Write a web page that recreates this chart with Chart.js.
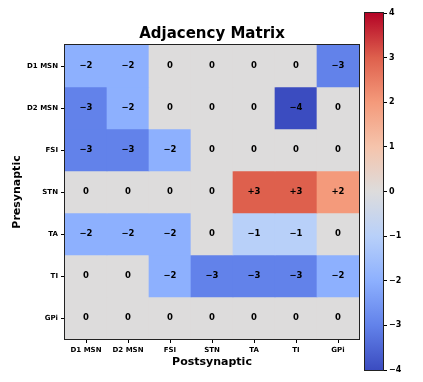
<!DOCTYPE html>
<html>
<head>
<meta charset="utf-8">
<script src="https://cdn.jsdelivr.net/npm/chart.js@4"></script>
<style>
  html, body { margin: 0; padding: 0; background: #fff; }
  #wrap { position: relative; width: 423px; height: 382px; }
  #matrix { position: absolute; left: 0; top: 0; }
  #cbar { position: absolute; left: 350px; top: 0; }
</style>
</head>
<body>
<div id="wrap">
  <canvas id="matrix" width="423" height="382"></canvas>
  <canvas id="cbar" width="73" height="382"></canvas>
</div>
<script>
// --- data ---
const rowLabels = ['D1 MSN', 'D2 MSN', 'FSI', 'STN', 'TA', 'TI', 'GPi'];
const colLabels = ['D1 MSN', 'D2 MSN', 'FSI', 'STN', 'TA', 'TI', 'GPi'];
const weights = [
  [-2, -2, 0, 0, 0, 0, -3],
  [-3, -2, 0, 0, 0, -4, 0],
  [-3, -3, -2, 0, 0, 0, 0],
  [0, 0, 0, 0, 3, 3, 2],
  [-2, -2, -2, 0, -1, -1, 0],
  [0, 0, -2, -3, -3, -3, -2],
  [0, 0, 0, 0, 0, 0, 0]
];
const colorMin = -4;
const colorMax = 4;

// coolwarm samples at -4 .. 4
const coolwarm = ['#3b4cc0', '#6282ea', '#8db0fe', '#b8d0f9', '#dddcdc', '#f5c4ac', '#f49a7b', '#de604d', '#b40426'];
const FONT = "'DejaVu Sans', sans-serif";

function cellColor(v) {
  const i = Math.round(v - colorMin);
  return coolwarm[Math.max(0, Math.min(coolwarm.length - 1, i))];
}
function fmt(v) {
  if (v > 0) return '+' + v;
  if (v < 0) return '\u2212' + Math.abs(v);
  return '0';
}

// one dataset per row, floating bars spanning [r-0.5, r+0.5]
const datasets = rowLabels.map((name, r) => ({
  label: name,
  data: colLabels.map(() => [r - 0.5, r + 0.5]),
  backgroundColor: weights[r].map(cellColor),
  borderWidth: 0,
  barPercentage: 1,
  categoryPercentage: 1,
  grouped: false
}));

const matrixDecor = {
  id: 'matrixDecor',
  afterDatasetsDraw(chart) {
    const { ctx, chartArea, scales } = chart;
    ctx.save();
    ctx.fillStyle = '#000';
    ctx.font = 'bold 8.5px ' + FONT;
    ctx.textAlign = 'center';
    ctx.textBaseline = 'middle';
    weights.forEach((row, r) => {
      row.forEach((v, c) => {
        ctx.fillText(fmt(v), scales.x.getPixelForValue(c), scales.y.getPixelForValue(r));
      });
    });
    ctx.strokeStyle = '#222';
    ctx.lineWidth = 1;
    ctx.strokeRect(chartArea.left - 0.5, chartArea.top - 0.5, chartArea.right - chartArea.left + 1, chartArea.bottom - chartArea.top + 1);
    ctx.font = 'bold 15px ' + FONT;
    ctx.fillText('Adjacency Matrix', (chartArea.left + chartArea.right) / 2, 34);
    ctx.restore();
  }
};

new Chart(document.getElementById('matrix'), {
  type: 'bar',
  data: { labels: colLabels, datasets },
  options: {
    responsive: false,
    animation: false,
    layout: { padding: { left: 0, top: 45, right: 64, bottom: 0 } },
    plugins: { legend: { display: false }, tooltip: { enabled: false } },
    scales: {
      x: {
        offset: true,
        grid: { offset: false, drawOnChartArea: false, drawTicks: true, tickLength: 4, color: '#000' },
        border: { display: false },
        ticks: { color: '#000', font: { family: FONT, size: 7, weight: 'bold' }, padding: 3, maxRotation: 0 },
        title: { display: true, text: 'Postsynaptic', color: '#000', font: { family: FONT, size: 11, weight: 'bold' }, padding: { top: 0, bottom: 13 } },
        afterFit(scale) { scale.height = 43; }
      },
      y: {
        type: 'linear',
        min: -0.5,
        max: 6.5,
        reverse: true,
        afterBuildTicks(scale) { scale.ticks = rowLabels.map((_, i) => ({ value: i })); },
        grid: { drawOnChartArea: false, drawTicks: true, tickLength: 4, color: '#000' },
        border: { display: false },
        ticks: {
          color: '#000', font: { family: FONT, size: 7, weight: 'bold' }, padding: 3,
          callback: (v) => rowLabels[v]
        },
        title: { display: true, text: 'Presynaptic', color: '#000', font: { family: FONT, size: 11, weight: 'bold' }, padding: { top: 11, bottom: 0 } },
        afterFit(scale) { scale.width = 65; }
      }
    }
  },
  plugins: [matrixDecor]
});

// --- colorbar ---
const cbarFrame = {
  id: 'cbarFrame',
  afterDatasetsDraw(chart) {
    const { ctx, chartArea } = chart;
    ctx.save();
    ctx.strokeStyle = '#222';
    ctx.lineWidth = 1;
    ctx.strokeRect(chartArea.left - 0.5, chartArea.top - 0.5, chartArea.right - chartArea.left + 1, chartArea.bottom - chartArea.top + 1);
    ctx.restore();
  }
};

new Chart(document.getElementById('cbar'), {
  type: 'bar',
  data: {
    labels: [''],
    datasets: [{
      data: [[colorMin, colorMax]],
      borderWidth: 0,
      barPercentage: 1,
      categoryPercentage: 1,
      backgroundColor(context) {
        const { ctx, chartArea } = context.chart;
        if (!chartArea) return coolwarm[4];
        const g = ctx.createLinearGradient(0, chartArea.bottom, 0, chartArea.top);
        coolwarm.forEach((c, i) => g.addColorStop(i / (coolwarm.length - 1), c));
        return g;
      }
    }]
  },
  options: {
    responsive: false,
    animation: false,
    layout: { padding: { left: 15, top: 13, right: 0, bottom: 12 } },
    plugins: { legend: { display: false }, tooltip: { enabled: false } },
    scales: {
      x: { display: false },
      y: {
        position: 'right',
        min: colorMin,
        max: colorMax,
        grid: { drawOnChartArea: false, drawTicks: true, tickLength: 4, color: '#000' },
        border: { display: false },
        ticks: {
          stepSize: 1, color: '#000', padding: 2,
          font: { family: FONT, size: 8, weight: 'bold' },
          callback: (v) => (v < 0 ? '\u2212' + Math.abs(v) : String(v))
        },
        afterFit(scale) { scale.width = 40; }
      }
    }
  },
  plugins: [cbarFrame]
});
</script>
</body>
</html>
